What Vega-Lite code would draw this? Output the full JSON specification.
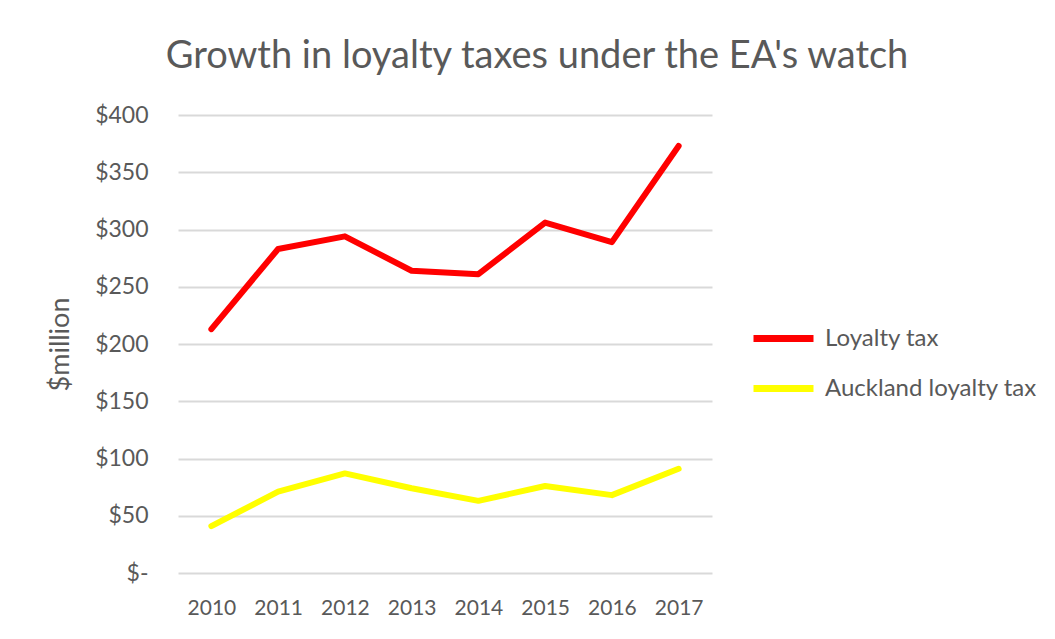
{
  "$schema": "https://vega.github.io/schema/vega-lite/v6.json",
  "width": 534,
  "height": 458,
  "autosize": {"type": "none"},
  "padding": {"left": 178, "top": 115, "right": 343, "bottom": 66},
  "background": "white",
  "title": {
    "text": "Growth in loyalty taxes under the EA's watch",
    "anchor": "middle",
    "frame": "group",
    "dx": 92,
    "offset": 28,
    "fontSize": 38,
    "font": "Lato",
    "fontWeight": "normal",
    "color": "#595959"
  },
  "data": {
    "values": [
      {"year": "2010", "series": "Loyalty tax", "value": 213},
      {"year": "2011", "series": "Loyalty tax", "value": 283},
      {"year": "2012", "series": "Loyalty tax", "value": 294},
      {"year": "2013", "series": "Loyalty tax", "value": 264},
      {"year": "2014", "series": "Loyalty tax", "value": 261},
      {"year": "2015", "series": "Loyalty tax", "value": 306},
      {"year": "2016", "series": "Loyalty tax", "value": 289},
      {"year": "2017", "series": "Loyalty tax", "value": 373},
      {"year": "2010", "series": "Auckland loyalty tax", "value": 41},
      {"year": "2011", "series": "Auckland loyalty tax", "value": 71},
      {"year": "2012", "series": "Auckland loyalty tax", "value": 87},
      {"year": "2013", "series": "Auckland loyalty tax", "value": 74},
      {"year": "2014", "series": "Auckland loyalty tax", "value": 63},
      {"year": "2015", "series": "Auckland loyalty tax", "value": 76},
      {"year": "2016", "series": "Auckland loyalty tax", "value": 68},
      {"year": "2017", "series": "Auckland loyalty tax", "value": 91}
    ]
  },
  "mark": {"type": "line", "strokeWidth": 6, "strokeCap": "round", "strokeJoin": "round"},
  "encoding": {
    "x": {
      "field": "year",
      "type": "ordinal",
      "scale": {"type": "point", "padding": 0.5},
      "axis": {
        "title": null,
        "labelAngle": 0,
        "domain": false,
        "ticks": false,
        "grid": false,
        "labelPadding": 24,
        "labelFontSize": 21,
        "labelFont": "Lato",
        "labelColor": "#595959"
      }
    },
    "y": {
      "field": "value",
      "type": "quantitative",
      "scale": {"domain": [0, 400]},
      "axis": {
        "title": "$million",
        "titleFont": "Lato",
        "titleFontSize": 27,
        "titleFontWeight": "normal",
        "titleColor": "#595959",
        "titlePadding": 20,
        "values": [0, 50, 100, 150, 200, 250, 300, 350, 400],
        "labelExpr": "datum.value == 0 ? '$-' : '$' + datum.value",
        "domain": false,
        "ticks": false,
        "labelPadding": 30,
        "labelFontSize": 23,
        "labelFont": "Lato",
        "labelColor": "#595959",
        "gridColor": "#d9d9d9",
        "gridWidth": 2
      }
    },
    "color": {
      "field": "series",
      "type": "nominal",
      "scale": {"domain": ["Loyalty tax", "Auckland loyalty tax"], "range": ["#ff0000", "#ffff00"]},
      "legend": {
        "title": null,
        "orient": "none",
        "legendX": 572,
        "legendY": 190,
        "symbolType": "stroke",
        "symbolSize": 3600,
        "symbolStrokeWidth": 7,
        "labelFontSize": 24,
        "labelFont": "Lato",
        "labelColor": "#595959",
        "labelLimit": 400,
        "rowPadding": 2,
        "labelOffset": 8
      }
    }
  },
  "config": {"view": {"stroke": null}}
}
